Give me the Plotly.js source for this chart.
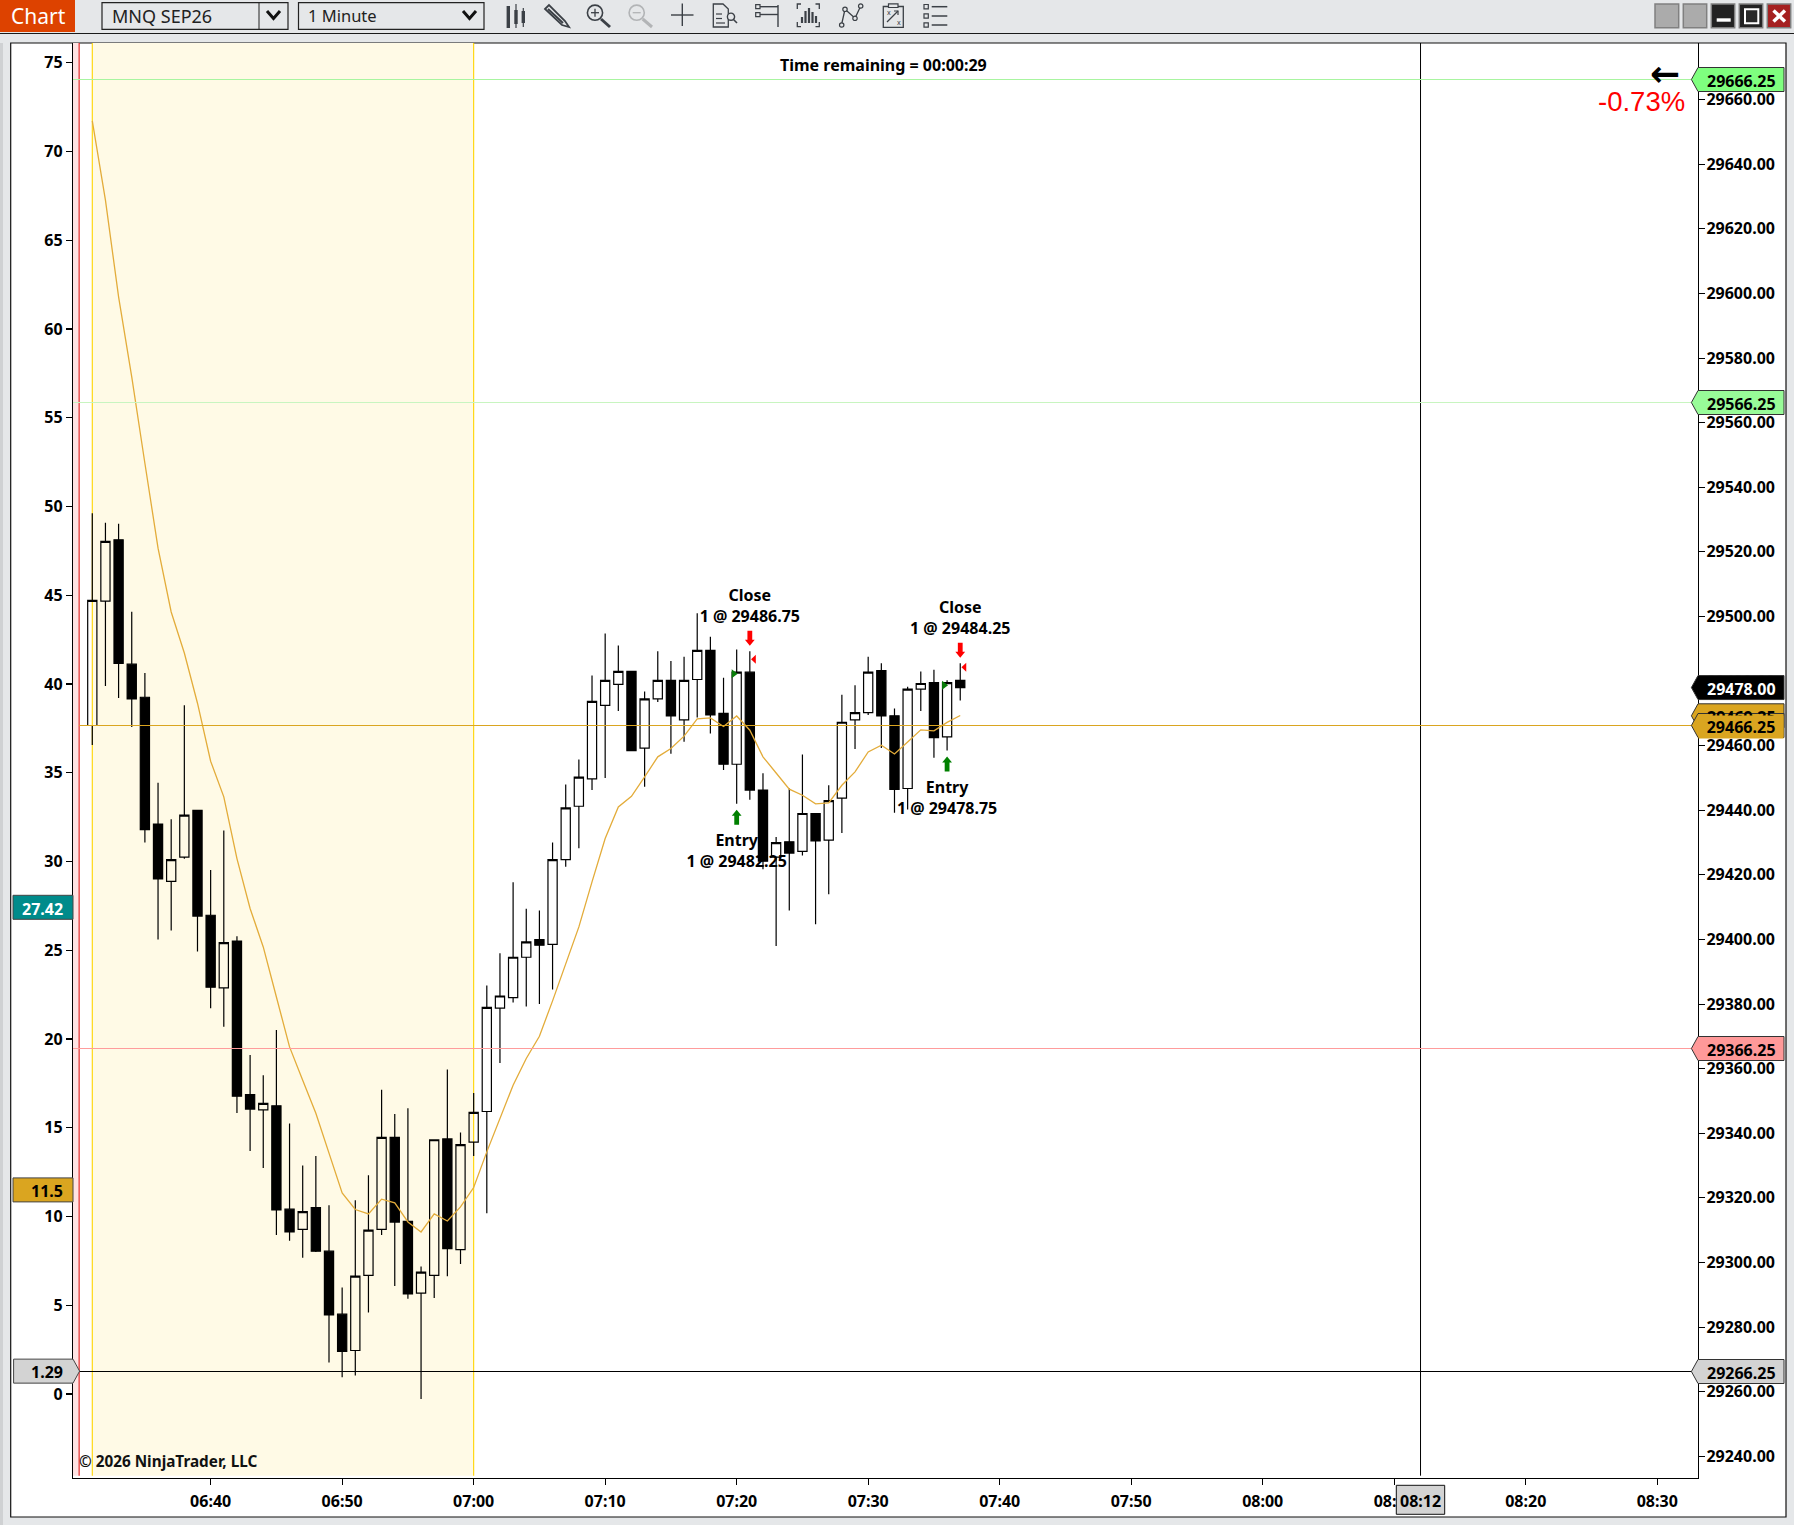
<!DOCTYPE html>
<html><head><meta charset="utf-8">
<script src="https://cdn.plot.ly/plotly-3.0.1.min.js"></script>
<style>html,body{margin:0;padding:0;background:#e5e7e9}#chart{width:1794px;height:1525px}</style>
</head><body><div id="chart"></div>
<script>
const day = '2026-06-15 ';
const times = ['06:31','06:32','06:33','06:34','06:35','06:36','06:37','06:38','06:39','06:40','06:41','06:42','06:43','06:44','06:45','06:46','06:47','06:48','06:49','06:50','06:51','06:52','06:53','06:54','06:55','06:56','06:57','06:58','06:59','07:00','07:01','07:02','07:03','07:04','07:05','07:06','07:07','07:08','07:09','07:10','07:11','07:12','07:13','07:14','07:15','07:16','07:17','07:18','07:19','07:20','07:21','07:22','07:23','07:24','07:25','07:26','07:27','07:28','07:29','07:30','07:31','07:32','07:33','07:34','07:35','07:36','07:37'];
const highs = [29532,29529,29528.75,29501.5,29482.5,29448.5,29437.25,29472.5,29440,29421.5,29433.75,29401,29364.25,29358,29372,29343,29330,29333,29317.75,29292.25,29319.25,29327,29353.5,29346,29347.75,29298.75,29338,29359.75,29340.25,29352.5,29385.75,29395.75,29417.75,29409.5,29409,29430,29448,29455.75,29481.75,29494.75,29491,29483,29476.75,29489.25,29486.25,29487.5,29501,29493.75,29481,29489.75,29489.25,29451.5,29431.75,29446.75,29457.25,29439,29447.75,29475.75,29478.75,29487.5,29485.5,29471.5,29478.25,29483,29483.5,29480.25,29485.5];
const lows = [29460.25,29478.5,29474.75,29465.75,29430,29400,29402.75,29425,29396.25,29378.75,29373,29346.25,29334.5,29329.25,29308.5,29306.75,29301.5,29303.25,29269,29264.5,29265,29284.5,29308.5,29292.75,29288.75,29257.75,29289,29295.75,29299.5,29333,29315.25,29361.75,29380.5,29379.25,29380,29384.5,29422.5,29428.25,29446.25,29450,29470.75,29458.5,29447.25,29473.5,29457.5,29461.25,29468.75,29463.75,29452.5,29442,29443.25,29421.75,29398,29409,29426,29404.75,29414,29433,29459,29469.5,29459.25,29439.25,29440.25,29470.75,29456.25,29458.5,29474];
const opens = [29466.25,29504.75,29523.75,29485.25,29475,29435.75,29418,29425.5,29440,29407.5,29385,29399.5,29352,29347.25,29348.5,29316.5,29310.25,29317,29303.5,29284,29272.75,29296,29310.25,29338.75,29312.75,29290.5,29296,29338.25,29304,29337.25,29346.75,29378.75,29382,29394.5,29400,29398.5,29424.75,29441.25,29449.75,29472.5,29479,29483,29459.25,29474.5,29480.25,29468,29480.5,29489.5,29470,29454.25,29482.75,29446.25,29425.5,29430.25,29427.25,29439,29430.75,29443.75,29468,29470.25,29483.25,29469.25,29446.75,29477.5,29479.5,29462.75,29480.25];
const closes = [29505,29523.25,29485.5,29474.5,29434,29418.75,29424.75,29438.5,29407.25,29385.25,29399,29351.5,29347.5,29349.25,29316.25,29309.5,29315.75,29303.5,29283.75,29272.5,29295.75,29310,29338.75,29312.5,29290.25,29297,29338,29304.25,29336.5,29346.5,29379,29382.5,29394.5,29399.25,29398.25,29424.75,29440.75,29450.25,29473.75,29480.25,29483,29458.5,29474.5,29480.25,29469.25,29480.25,29489.5,29469.5,29454.25,29482.75,29446.25,29424.25,29430,29426.75,29439,29430.5,29443,29467.25,29470.25,29482.75,29469.25,29446.5,29477.5,29479.25,29462.5,29479.5,29478];
const sma = [29653.45,29628.9,29598.95,29574.15,29547.45,29521.15,29501.4,29488.7,29473.15,29455.2,29444.15,29425.05,29409.6,29397.7,29382.2,29366.75,29356.45,29346.2,29333.85,29321.55,29316.4,29315.05,29319.6,29318.45,29312.55,29309.45,29315.05,29312.85,29317.2,29323.2,29334.25,29344.55,29354.9,29363.15,29370.05,29381,29392.65,29403.9,29417.85,29431.25,29441.05,29444.35,29450.35,29456.55,29459.15,29462.95,29468.3,29468.6,29465.95,29469.2,29464.8,29456.55,29451.55,29446.55,29444.65,29442,29442.3,29447.75,29451.9,29458.05,29460.15,29457.45,29461.15,29464.9,29464.6,29467.2,29469.35];
const priceTicks = [29240,29260,29280,29300,29320,29340,29360,29380,29400,29420,29440,29460,29480,29500,29520,29540,29560,29580,29600,29620,29640,29660];
const leftTicks = [0,5,10,15,20,25,30,35,40,45,50,55,60,65,70,75];
const timeTicks = ['06:40','06:50','07:00','07:10','07:20','07:30','07:40','07:50','08:00','08:10','08:20','08:30'];
const entryTimes = ['07:20','07:36'];
const entryPrices = [29482.25,29478.75];
const entryLows = [29442,29458.5];
const closeTimes = ['07:21','07:37'];
const closePrices = [29486.75,29484.25];
const closeHighs = [29489.25,29485.5];
const markerLabels = ['Entry','1 @ 29482.25','Entry','1 @ 29478.75','Close','1 @ 29486.75','Close','1 @ 29484.25'];
const markerLabelTimes = ['07:20','07:20','07:36','07:36','07:21','07:21','07:37','07:37'];
const markerLabelLevels = [31.1,29.92,34.07,32.9,44.9,43.74,44.23,43.04];
const priceFlags = [29666.25,29566.25,29478,29469.25,29466.25,29366.25,29266.25];
const flagFills = ['#7fff7f','#98fb98','#000000','#daa520','#daa520','#ff9999','#d3d3d3'];
const flagText = ['#000','#000','#fff','#000','#000','#000','#000'];
const lineColors = ['#a8f5a0','#c8f5c0',null,null,'#daa520','#ff9c9c','#000000'];
const leftFlags = [27.42,11.5,1.29];
const leftFlagFills = ['#008b8b','#daa520','#d3d3d3'];
const leftFlagText = ['#fff','#000','#000'];

const L=73,R=1698,T=43,B=1478;
const xMin='2026-06-15 06:29:32', xMax='2026-06-15 08:33:06';
const xp=x=>(x-L)/(R-L), yp=y=>(B-y)/(B-T);
const t=s=>day+s;
const FONT='"Noto Sans", sans-serif';
const FS=16, FW=700, INK='#3b4046';
const shapes=[], ann=[];

function rect(x0,y0,x1,y1,fill,line,w,layer){shapes.push({type:'rect',xref:'paper',yref:'paper',x0:xp(x0),x1:xp(x1),y0:yp(y0),y1:yp(y1),fillcolor:fill,line:{color:line||'rgba(0,0,0,0)',width:line?(w||1):0},layer:layer||'above'});}
function poly(pts,closed,fill,stroke,w){let d=pts.map((p,i)=>(i?'L':'M')+xp(p[0]).toFixed(6)+','+yp(p[1]).toFixed(6)).join(' ')+(closed?' Z':'');shapes.push({type:'path',xref:'paper',yref:'paper',path:d,fillcolor:fill||'rgba(0,0,0,0)',line:{color:stroke||'rgba(0,0,0,0)',width:stroke?(w||1):0},layer:'above'});}
function circ(cx,cy,r,stroke,w,fill){shapes.push({type:'circle',xref:'paper',yref:'paper',x0:xp(cx-r),x1:xp(cx+r),y0:yp(cy-r),y1:yp(cy+r),fillcolor:fill||'rgba(0,0,0,0)',line:{color:stroke,width:w},layer:'above'});}
function txt(x,y,text,size,color,anchor,weight,family){ann.push({xref:'paper',yref:'paper',x:xp(x),y:yp(y),text,showarrow:false,xanchor:anchor||'center',yanchor:'middle',borderpad:0,font:{size,color,weight:weight||400,family:family||FONT}});}
function pix(xref,xanchor,yref,yanchor,pts,fill,stroke,w){shapes.push({type:'path',xref,yref,xsizemode:'pixel',ysizemode:'pixel',xanchor,yanchor,path:pts.map((p,i)=>(i?'L':'M')+p[0]+','+p[1]).join(' ')+' Z',fillcolor:fill,line:{color:stroke||'rgba(0,0,0,0)',width:stroke?(w||1):0},layer:'above'});}

// window frame
rect(0,0,1794,1525,'#e5e7e9',null,0,'below');
rect(0,43,3,1525,'#cfd1d3',null,0,'below');
rect(10.7,43,1786,1517,'#ffffff','#111111',1.2,'below');

// toolbar
rect(0,33,1794,34,'#1a1a1a');
rect(0,0,75,32,'#dd4200');
txt(38,16.5,'Chart',21,'#ffffff');
rect(102,2.7,288,29.3,'#e5e7e9','#222',1.2);
poly([[259,2.7],[259,29.3]],false,null,'#222',1);
txt(111,16,'MNQ SEP26',18,'#222','left');
poly([[267,11],[273.5,18.5],[280,11]],false,null,'#111',3);
rect(298.5,2.7,484,29.3,'#e5e7e9','#222',1.2);
txt(307,15.5,'1 Minute',16.5,'#222','left');
poly([[463,11],[469.5,18.5],[476,11]],false,null,'#111',3);
// icons
[[508.3,12,26,6,28],[516,4,28,10,24],[523.3,8,27,11,23]].forEach(a=>{poly([[a[0],a[1]],[a[0],a[2]]],false,null,INK,1.2);poly([[a[0],a[3]],[a[0],a[4]]],false,null,INK,3.4);});
poly([[545,9],[549,5],[565,21],[569,27],[562,25]],true,'#e5e7e9',INK,1.8);poly([[548,9],[563,23]],false,null,INK,2);
circ(595,12.7,7.6,INK,1.6);poly([[591,12.7],[599,12.7]],false,null,INK,1.3);poly([[595,8.7],[595,16.7]],false,null,INK,1.3);poly([[601,19],[610,27]],false,null,INK,3);
circ(636.7,12.7,7.6,'#b2b4b6',1.6);poly([[632.7,12.7],[640.7,12.7]],false,null,'#b2b4b6',1.3);poly([[642.7,19],[652,27]],false,null,'#b2b4b6',3);
poly([[671,15],[693.5,15]],false,null,INK,1.4);poly([[682.3,3.5],[682.3,26]],false,null,INK,1.4);
poly([[713.3,4],[723,4],[728.3,9],[728.3,27],[713.3,27]],true,null,INK,1.3);poly([[716,14],[722,14]],false,null,INK,1.2);poly([[716,18.5],[722,18.5]],false,null,INK,1.2);poly([[716,23],[725,23]],false,null,INK,1.2);circ(731,16.7,3.6,INK,1.4,'#e5e7e9');poly([[733.5,19.5],[737,23]],false,null,INK,1.6);
rect(755.7,4.7,760,8.7,'#e5e7e9',INK,1.2);rect(755.7,12.7,760,16.7,'#e5e7e9',INK,1.2);poly([[760,6.7],[778,6.7]],false,null,INK,1.4);poly([[760,14.5],[778,14.5]],false,null,INK,1.4);poly([[778,5],[778,27]],false,null,INK,1.4);
poly([[801,4],[797.3,4],[797.3,9]],false,null,INK,1.3);poly([[815.5,4],[819.3,4],[819.3,9]],false,null,INK,1.3);poly([[797.3,22],[797.3,26.7],[801,26.7]],false,null,INK,1.3);poly([[819.3,22],[819.3,26.7],[815.5,26.7]],false,null,INK,1.3);
[[802,17],[805.5,11],[809,8],[812.5,12],[816,16]].forEach(a=>poly([[a[0],a[1]],[a[0],23]],false,null,INK,2.2));
poly([[841.7,24],[845,9.3],[855,18.3],[860.7,6]],false,null,INK,1.3);[[841.7,25],[845,9.3],[855,18.3],[860.7,6]].forEach(a=>circ(a[0],a[1],2.2,INK,1.2,'#e5e7e9'));
rect(883.3,6.5,903.3,27.3,'#e5e7e9',INK,1.3);rect(888.5,3.8,898,7.5,'#e5e7e9',INK,1.2);poly([[887,22],[898,11]],false,null,INK,1.2);poly([[894,11],[898,11],[898,15]],false,null,INK,1.2);txt(889,12,'x',7,INK);txt(899,23,'x',7,INK);
[6.7,16,25].forEach(y=>{rect(924,y-2.2,928.3,y+2.2,'#e5e7e9',INK,1.2);poly([[931.7,y],[947.3,y]],false,null,INK,1.5);});
// window buttons
rect(1655,4,1678.7,27.7,'#ababab','#808080',1.5);
rect(1683.3,4,1706.7,27.7,'#ababab','#808080',1.5);
rect(1711.3,4,1734.7,27.7,'#222222','#808080',1.5);rect(1716.7,18.3,1730.7,21.7,'#ffffff');
rect(1739.3,4,1762.7,27.7,'#222222','#808080',1.5);rect(1745,9.3,1758.3,23.3,'#2a2a2a','#ffffff',2);
rect(1767.3,4,1790.7,27.7,'#a52020','#808080',1.5);poly([[1773.5,10.5],[1785,21.5]],false,null,'#ffffff',3.4);poly([[1785,10.5],[1773.5,21.5]],false,null,'#ffffff',3.4);

// session bands (xref x)
const ytop=1, ybot=yp(1475.7);
shapes.push({type:'rect',xref:'x',yref:'paper',x0:xMin,x1:t('06:30'),y0:ybot,y1:ytop,fillcolor:'#ffe3e3',line:{width:0},layer:'below'});
shapes.push({type:'rect',xref:'x',yref:'paper',x0:t('06:31'),x1:t('07:00'),y0:ybot,y1:ytop,fillcolor:'#fffae6',line:{width:0},layer:'below'});
[['06:30','#e01818'],['06:31','#ffd400'],['07:00','#ffd400']].forEach(a=>shapes.push({type:'line',xref:'x',yref:'paper',x0:t(a[0]),x1:t(a[0]),y0:ybot,y1:ytop,line:{color:a[1],width:1.1},layer:'below'}));
shapes.push({type:'line',xref:'x',yref:'paper',x0:t('08:12'),x1:t('08:12'),y0:ybot,y1:ytop,line:{color:'#000',width:1},layer:'above'});

// horizontal price lines
priceFlags.forEach((p,i)=>{ if(!lineColors[i]) return;
  const gold=p===29466.25;
  shapes.push({type:'line',xref:gold?'x':'paper',yref:'y2',x0:gold?t('06:30'):0,x1:gold?xMax:1,y0:p,y1:p,line:{color:lineColors[i],width:1},layer:'above'});
});

// price flags
priceFlags.forEach((p,i)=>{
  pix('paper',1,'y2',p,[[-6.6,0],[0,12],[86,12],[86,-12],[0,-12]],flagFills[i],'#333',1);
});
priceFlags.forEach((p,i)=>{
  const a={xref:'paper',yref:'y2',x:xp(1741),y:p,yshift:-1.5,text:p.toFixed(2),showarrow:false,xanchor:'center',yanchor:'middle',font:{size:FS,color:flagText[i],weight:FW,family:FONT}};
  if(p===29466.25){a.bgcolor=flagFills[i];a.width=84;a.height=22;a.borderpad=0;}
  ann.push(a);
});
// left flags
leftFlags.forEach((v,i)=>{
  const tip=v===1.29;
  pix('paper',0,'y',v,tip?[[-59.4,12],[0,12],[6.6,0],[0,-12],[-59.4,-12]]:[[-60,12],[0,12],[0,-12],[-60,-12]],leftFlagFills[i],'#444',1);
  ann.push({xref:'paper',yref:'y',x:xp(64),y:v,yshift:-1.2,text:String(v),showarrow:false,xanchor:'right',yanchor:'middle',borderpad:0,font:{size:FS,color:leftFlagText[i],weight:FW,family:FONT}});
});

// trade arrows and triangles
entryTimes.forEach((s,i)=>{
  pix('x',t(s),'y2',entryLows[i],[[0,-6],[4.9,-12],[2.4,-12],[2.4,-21],[-2.4,-21],[-2.4,-12],[-4.9,-12]],'#008000');
  pix('x',t(s),'y2',entryPrices[i],[[-5,4.5],[1,0],[-5,-4.5]],'#0a7d0a');
});
closeTimes.forEach((s,i)=>{
  pix('x',t(s),'y2',closeHighs[i],[[0,5.5],[4.9,11.5],[2.4,11.5],[2.4,20.5],[-2.4,20.5],[-2.4,11.5],[-4.9,11.5]],'#ff0000');
  pix('x',t(s),'y2',closePrices[i],[[6,4.5],[1.2,0],[6,-4.5]],'#ff0000');
});

// crosshair time label
rect(1396.3,1485.3,1444.7,1514.3,'#d3d3d3','#111',1);
txt(1420.5,1501.5,'08:12',FS,'#000','center',FW);

// free text
txt(883,65.5,'Time remaining = 00:00:29',FS,'#000','center',FW);
txt(1641,102,'-0.73%',27.5,'#ff0000','center',400,'"Liberation Sans", Arial, sans-serif');
txt(1665,73,'←',36,'#000','center',700,'"DejaVu Sans", sans-serif');
txt(77.5,1460.7,'© 2026 NinjaTrader, LLC',15.3,'#111','left',FW);

const dates=times.map(t);
const traces=[
 {type:'scatter',mode:'text',x:markerLabelTimes.map(t),y:markerLabelLevels,text:markerLabels,textposition:'middle center',textfont:{size:FS,color:'#000',weight:FW,family:FONT},xaxis:'x',yaxis:'y',hoverinfo:'skip',showlegend:false},
 {type:'candlestick',x:dates,open:opens,high:highs,low:lows,close:closes,xaxis:'x',yaxis:'y2',whiskerwidth:0,
  increasing:{line:{color:'#000',width:1.2},fillcolor:'rgba(255,255,255,0)'},
  decreasing:{line:{color:'#000',width:1.2},fillcolor:'#000'},hoverinfo:'skip',showlegend:false},
 {type:'scatter',mode:'lines',x:dates,y:sma,line:{color:'#e3ac3a',width:1.3},xaxis:'x',yaxis:'y2',hoverinfo:'skip',showlegend:false}
];
const layout={
 width:1794,height:1525,autosize:false,showlegend:false,
 margin:{l:L,r:1794-R,t:T,b:1525-B,pad:0},
 paper_bgcolor:'#e5e7e9',plot_bgcolor:'#ffffff',
 boxgap:0.3,boxgroupgap:0,
 font:{family:FONT,size:FS,color:'#000'},
 xaxis:{type:'date',range:[xMin,xMax],tickmode:'array',tickvals:timeTicks.map(t),ticktext:timeTicks,ticks:'outside',ticklen:6,tickwidth:1.1,tickcolor:'#000',ticklabelstandoff:3,showgrid:false,zeroline:false,showline:true,linecolor:'#000',linewidth:1.2,rangeslider:{visible:false},tickfont:{size:FS,weight:FW,family:FONT,color:'#000'}},
 yaxis:{range:[-4.73,76.11],tickmode:'array',tickvals:leftTicks,ticktext:leftTicks.map(String),side:'left',ticks:'outside',ticklen:6,tickwidth:1.1,tickcolor:'#000',ticklabelshift:3.5,ticklabelstandoff:-1.5,showgrid:false,zeroline:false,showline:true,linecolor:'#000',linewidth:1.2,tickfont:{size:FS,weight:FW,family:FONT,color:'#000'}},
 yaxis2:{range:[29233.28,29677.55],overlaying:'y',side:'right',anchor:'x',tickmode:'array',tickvals:priceTicks,ticktext:priceTicks.map(v=>v.toFixed(2)),ticks:'outside',ticklen:6,tickwidth:1.1,tickcolor:'#000',ticklabelshift:3.5,ticklabelstandoff:-2,showgrid:false,zeroline:false,showline:true,linecolor:'#000',linewidth:1.2,tickfont:{size:FS,weight:FW,family:FONT,color:'#000'}},
 shapes,annotations:ann
};
Plotly.newPlot('chart',traces,layout,{displayModeBar:false,staticPlot:true});
</script></body></html>
